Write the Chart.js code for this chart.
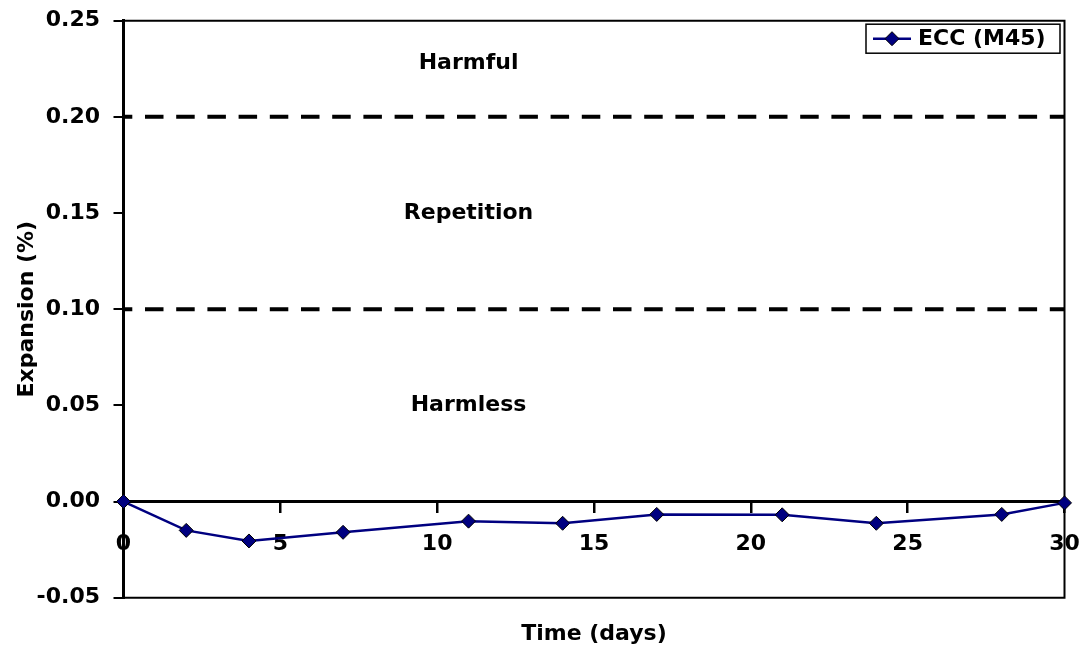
<!DOCTYPE html>
<html>
<head>
<meta charset="utf-8">
<script src="https://cdn.jsdelivr.net/npm/chart.js@4/dist/chart.umd.min.js"></script>
<style>
  html, body { margin: 0; padding: 0; background: #ffffff; }
  #wrap { width: 1085px; height: 653px; }
</style>
</head>
<body>
<div id="wrap"><canvas id="c" width="1085" height="653"></canvas></div>
<script>
// Expansion of the ECC (M45) specimens over time
const days = [0, 2, 4, 7, 11, 14, 17, 21, 24, 28, 30];
const expansion = [0, -0.015, -0.0205, -0.016, -0.0102, -0.0113, -0.0067, -0.0069, -0.0113, -0.0067, -0.0007];
const seriesName = 'ECC (M45)';

// Axis ticks
const xTicks = [0, 5, 10, 15, 20, 25, 30];
const yTicks = [-0.05, 0.00, 0.05, 0.10, 0.15, 0.20, 0.25];

// Classification limits and zone names
const thresholdLevels = [0.10, 0.20];
const zoneNames = ['Harmless', 'Repetition', 'Harmful'];
const zoneLevels = [0.05, 0.15, 0.228];
const zoneDay = 11;

const FONT = 'bold 22px "DejaVu Sans"';
const LINE_COLOR = '#000080';

Chart.defaults.font.family = '"DejaVu Sans"';
Chart.defaults.font.size = 22;
Chart.defaults.font.weight = 'bold';
Chart.defaults.color = '#000000';

// Plot frame, dashed limit lines, zone names and legend box
const framePlugin = {
  id: 'frame',
  beforeDatasetsDraw(chart) {
    const { ctx, chartArea: a, scales: { y } } = chart;
    ctx.save();
    ctx.strokeStyle = '#000';
    ctx.lineWidth = 2;
    ctx.beginPath();
    ctx.moveTo(a.left, a.top); ctx.lineTo(a.right, a.top);
    ctx.lineTo(a.right, a.bottom); ctx.lineTo(a.left, a.bottom);
    ctx.stroke();

    ctx.lineWidth = 4;
    ctx.setLineDash([18.5, 12.7]);
    ctx.lineDashOffset = 9.7;
    thresholdLevels.forEach(v => {
      const py = y.getPixelForValue(v);
      ctx.beginPath();
      ctx.moveTo(a.left, py);
      ctx.lineTo(a.right, py);
      ctx.stroke();
    });
    ctx.restore();
  },
  afterDatasetsDraw(chart) {
    const { ctx, scales: { x, y } } = chart;
    ctx.save();
    ctx.font = FONT;
    ctx.fillStyle = '#000';
    ctx.textAlign = 'center';
    ctx.textBaseline = 'middle';
    zoneNames.forEach((name, i) => {
      ctx.fillText(name, x.getPixelForValue(zoneDay), y.getPixelForValue(zoneLevels[i]));
    });
    ctx.restore();
  },
  afterDraw(chart) {
    const { ctx, chartArea: a } = chart;
    const ds = chart.data.datasets[0];
    const bw = 194, bh = 29;
    const bx = a.right - 4.5 - bw, by = a.top + 3.5;
    ctx.save();
    ctx.fillStyle = '#fff';
    ctx.fillRect(bx, by, bw, bh);
    ctx.strokeStyle = '#000';
    ctx.lineWidth = 1.5;
    ctx.strokeRect(bx, by, bw, bh);
    const cy = by + bh / 2;
    ctx.strokeStyle = ds.borderColor;
    ctx.lineWidth = 2.5;
    ctx.beginPath();
    ctx.moveTo(bx + 7, cy);
    ctx.lineTo(bx + 45, cy);
    ctx.stroke();
    const r = ds.pointRadius;
    ctx.fillStyle = ds.pointBackgroundColor;
    ctx.strokeStyle = ds.pointBorderColor;
    ctx.beginPath();
    ctx.moveTo(bx + 26, cy - r); ctx.lineTo(bx + 26 + r, cy);
    ctx.lineTo(bx + 26, cy + r); ctx.lineTo(bx + 26 - r, cy);
    ctx.closePath();
    ctx.fill();
    ctx.lineWidth = 1;
    ctx.stroke();
    ctx.fillStyle = '#000';
    ctx.font = FONT;
    ctx.textAlign = 'left';
    ctx.textBaseline = 'middle';
    ctx.fillText(ds.label, bx + 52, cy + 1);
    ctx.restore();
  }
};

new Chart(document.getElementById('c'), {
  type: 'line',
  data: {
    datasets: [{
      label: seriesName,
      data: days.map((d, i) => ({ x: d, y: expansion[i] })),
      borderColor: LINE_COLOR,
      borderWidth: 2.5,
      pointStyle: 'rectRot',
      pointRadius: 7,
      pointHoverRadius: 7,
      pointBackgroundColor: LINE_COLOR,
      pointBorderColor: '#000',
      pointBorderWidth: 1,
      tension: 0,
      clip: false
    }]
  },
  options: {
    responsive: false,
    animation: false,
    events: [],
    layout: { padding: { left: 0, right: 20.5, top: 20.7, bottom: 0 } },
    plugins: {
      legend: { display: false },
      tooltip: { enabled: false },
      title: {
        display: true,
        text: 'Time (days)',
        position: 'bottom',
        fullSize: false,
        font: { size: 22, weight: 'bold', family: '"DejaVu Sans"' },
        color: '#000',
        padding: { top: 23.1, bottom: 5.8 }
      }
    },
    scales: {
      x: {
        type: 'linear',
        min: 0, max: 30,
        position: { y: 0 },
        afterBuildTicks: s => { s.ticks = xTicks.map(v => ({ value: v })); },
        afterFit: s => { s.paddingLeft = 0; s.paddingRight = 0; },
        grid: { drawOnChartArea: false, drawTicks: true, tickLength: 10, color: '#000', lineWidth: 2.5 },
        border: { display: true, color: '#000', width: 3 },
        ticks: { padding: 20, maxRotation: 0, color: '#000', font: { size: 22, weight: 'bold' } }
      },
      y: {
        type: 'linear',
        min: -0.05, max: 0.25,
        afterBuildTicks: s => { s.ticks = yTicks.map(v => ({ value: v })); },
        afterFit: s => { s.width = 123.5; s.paddingTop = 0; s.paddingBottom = 0; },
        grid: { drawOnChartArea: false, drawTicks: true, tickLength: 10, color: '#000', lineWidth: 2 },
        border: { display: true, color: '#000', width: 3 },
        ticks: { padding: 13.5, color: '#000', callback: v => v.toFixed(2), font: { size: 22, weight: 'bold' } },
        title: { display: true, text: 'Expansion (%)', color: '#000', padding: { top: 14, bottom: 0 }, font: { size: 22, weight: 'bold' } }
      }
    }
  },
  plugins: [framePlugin]
});
</script>
</body>
</html>
